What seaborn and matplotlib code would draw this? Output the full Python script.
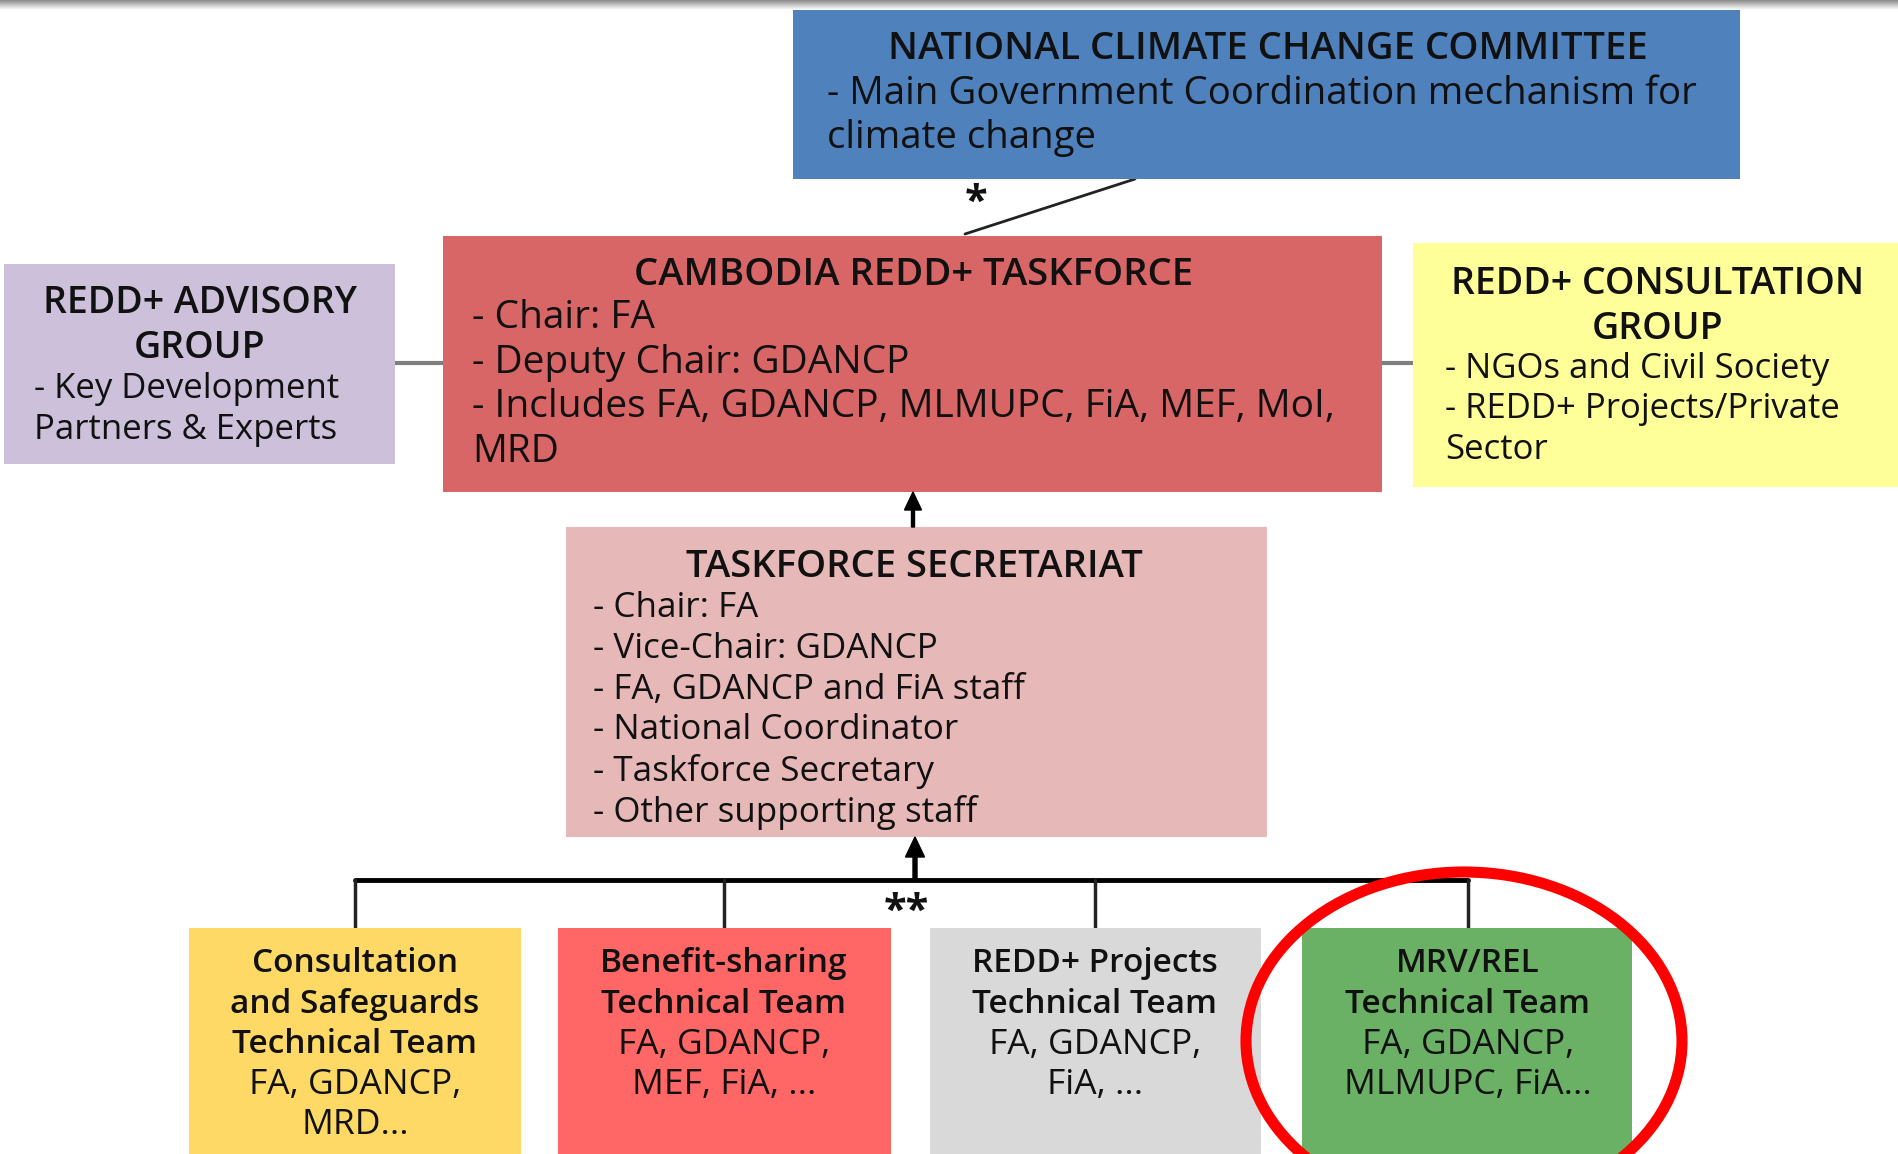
import matplotlib
matplotlib.use("Agg")
import matplotlib.pyplot as plt
from matplotlib.patches import Rectangle, Ellipse, FancyArrow
import numpy as np
import seaborn as sns

# box texts
nccc_title = ["NATIONAL CLIMATE CHANGE COMMITTEE"]
nccc_lines = ["- Main Government Coordination mechanism for", "climate change"]

taskforce_title = ["CAMBODIA REDD+ TASKFORCE"]
taskforce_lines = ["- Chair: FA", "- Deputy Chair: GDANCP",
                   "- Includes FA, GDANCP, MLMUPC, FiA, MEF, MoI,", "MRD"]

advisory_title = ["REDD+ ADVISORY", "GROUP"]
advisory_lines = ["- Key Development", "Partners & Experts"]

consult_title = ["REDD+ CONSULTATION", "GROUP"]
consult_lines = ["- NGOs and Civil Society", "- REDD+ Projects/Private", "Sector"]

secretariat_title = ["TASKFORCE SECRETARIAT"]
secretariat_lines = ["- Chair: FA", "- Vice-Chair: GDANCP", "- FA, GDANCP and FiA staff",
                     "- National Coordinator", "- Taskforce Secretary", "- Other supporting staff"]

team_titles = [["Consultation", "and Safeguards", "Technical Team"],
               ["Benefit-sharing", "Technical Team"],
               ["REDD+ Projects", "Technical Team"],
               ["MRV/REL", "Technical Team"]]
team_members = [["FA, GDANCP,", "MRD..."],
                ["FA, GDANCP,", "MEF, FiA, ..."],
                ["FA, GDANCP,", "FiA, ..."],
                ["FA, GDANCP,", "MLMUPC, FiA..."]]
team_colors = ["#FFD966", "#FF6666", "#D9D9D9", "#6AB165"]

sns.set_theme(style="white")
plt.rcParams["font.family"] = ["Open Sans", "DejaVu Sans"]

TXT = "#111111"
DY = 4  # small baseline nudge

fig = plt.figure(figsize=(18.99, 11.54), dpi=100)
ax = fig.add_axes([0, 0, 1, 1])
ax.set_xlim(0, 1899)
ax.set_ylim(1154, 0)
ax.axis("off")

# grey shadow at the top edge
grad = np.linspace(0.55, 1.0, 20).reshape(-1, 1)
ax.imshow(grad, cmap="gray", vmin=0, vmax=1, extent=(0, 1899, 10, 0), aspect="auto", zorder=0)


def box(x0, y0, x1, y1, color):
    ax.add_patch(Rectangle((x0, y0), x1 - x0, y1 - y0, facecolor=color, edgecolor="none", zorder=2))


def lines(texts, x, y0, step, fs, ha="left", bold=False):
    for i, t in enumerate(texts):
        ax.text(x, y0 + DY + i * step, t, ha=ha, va="center", fontsize=fs, color=TXT,
                fontweight="semibold" if bold else "normal", zorder=4)


# connectors
ax.plot([965, 1135], [234, 179], color="#222222", lw=2, zorder=1)
ax.text(976, 203, "*", ha="center", va="center", fontsize=30, fontweight="bold", color=TXT)
ax.plot([395, 443], [363, 363], color="#7F7F7F", lw=3, zorder=1)
ax.plot([1382, 1413], [363, 363], color="#7F7F7F", lw=3, zorder=1)

# NCCC
box(793, 10, 1740, 179, "#4F81BD")
lines(nccc_title, 1268, 45, 44, 27.5, ha="center", bold=True)
lines(nccc_lines, 827, 90, 44, 27.6)

# taskforce
box(443, 236, 1382, 492, "#D96666")
lines(taskforce_title, 914, 271, 44, 27.5, ha="center", bold=True)
lines(taskforce_lines, 472, 314, 44.7, 28)

# advisory group
box(4, 264, 395, 464, "#CCC0DA")
lines(advisory_title, 200, 299, 45, 27, ha="center", bold=True)
lines(advisory_lines, 34, 385, 41, 25)

# consultation group
box(1413, 243, 1899, 487, "#FFFF99")
lines(consult_title, 1658, 280, 45, 27, ha="center", bold=True)
lines(consult_lines, 1445, 365, 40.5, 25)

# secretariat
box(566, 527, 1267, 837, "#E6B8B7")
lines(secretariat_title, 914, 563, 44, 27.5, ha="center", bold=True)
lines(secretariat_lines, 593, 604, 40.8, 25.2)

# arrows
ax.add_patch(FancyArrow(913, 527, 0, -35, width=3, head_width=17, head_length=18,
                        length_includes_head=True, color="black", zorder=3))
ax.add_patch(FancyArrow(915, 880, 0, -43, width=4, head_width=19, head_length=20,
                        length_includes_head=True, color="black", zorder=3))

# tree to teams
team_x0 = [189, 558, 930, 1302]
team_x1 = [521, 891, 1261, 1632]
team_cx = [355, 724, 1095, 1468]
ax.plot([team_cx[0], team_cx[-1]], [880, 880], color="black", lw=3.5, zorder=1)
for cx in team_cx:
    ax.plot([cx, cx], [880, 928], color="#222222", lw=2.5, zorder=1)
ax.text(906, 912, "**", ha="center", va="center", fontsize=30, fontweight="bold", color=TXT)

for x0, x1, cx, tt, mm, c in zip(team_x0, team_x1, team_cx, team_titles, team_members, team_colors):
    box(x0, 928, x1, 1160, c)
    lines(tt, cx, 960, 40.3, 24, ha="center", bold=True)
    lines(mm, cx, 960 + 40.3 * len(tt), 40.3, 25.5, ha="center")

# highlight ring
ax.add_patch(Ellipse((1464, 1041), 436, 338, facecolor="none", edgecolor="#FF0000", lw=8, zorder=5))

fig.savefig("out.png", dpi=100)
